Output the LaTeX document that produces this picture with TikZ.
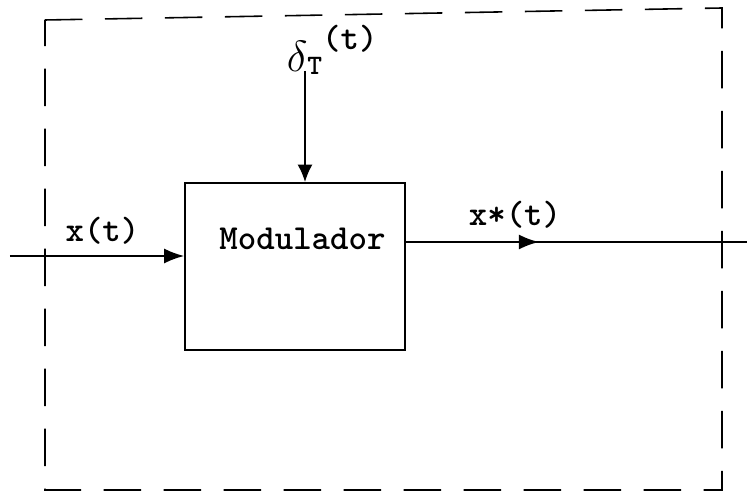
\documentclass[tikz,border=0pt]{standalone}
\usepackage{fontspec}
\usetikzlibrary{arrows.meta,decorations.markings}
\begin{document}
\begin{tikzpicture}[line width=1pt, font=\fontsize{20}{22}\selectfont\ttfamily\bfseries,
  frame/.style={dash pattern=on 0.75cm off 0.45cm, line width=0.9pt},
  midarrow/.style={postaction={decorate}, decoration={markings,
    mark=at position #1 with {\arrow{Latex[length=0.4cm,width=0.3cm]}}}}]
  \useasboundingbox (0,0) rectangle (14.94,-9.94);
  \draw[frame] (0.9,-0.4) -- (14.44,-0.16) -- (14.44,-9.8) -- (0.9,-9.8) -- cycle;
  \node[draw, minimum width=4.4cm, minimum height=3.34cm] (mod) at (5.9,-5.33) {};
  \node (modtxt) at (6.05,-4.78) {Modulador};
  \coordinate (in) at (0.2,-5.12);
  \coordinate (out) at (14.94,-4.84);
  \coordinate (dl) at (6.1,-1.42);
  \draw[-{Latex[length=0.4cm,width=0.3cm]}] (in) -- (in -| mod.west);
  \draw[line width=1.2pt, midarrow=0.39] (out -| mod.east) -- (out);
  \draw[-{Latex[length=0.35cm,width=0.3cm]}] (dl) -- (dl |- mod.north);
  \node (xin) at (2.05,-4.62) {x(t)};
  \node (xout) at (10.3,-4.3) {x*(t)};
  \node[anchor=south west, inner sep=0pt] (dlabel) at (5.72,-1.5)
    {{\fontsize{34}{34}\selectfont$\delta$}\raisebox{-0.05cm}{\fontsize{16}{18}\selectfont T}\raisebox{0.45cm}{(t)}};
\end{tikzpicture}
\end{document}
